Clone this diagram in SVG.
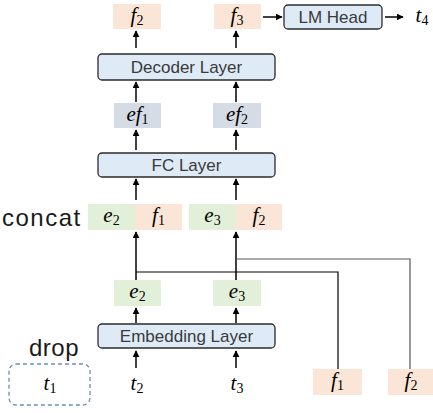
<svg xmlns="http://www.w3.org/2000/svg" width="433" height="413" viewBox="0 0 433 413">
<defs>
<marker id="ah" viewBox="0 0 10 10" refX="9" refY="5" markerWidth="7" markerHeight="7" markerUnits="userSpaceOnUse" orient="auto">
<path d="M0,0 L10,5 L0,10 z" fill="#000"/>
</marker>
<style>
.or{fill:#fbe5d6}
.gr{fill:#e2f0d9}
.gb{fill:#d6dce5}
.layer{fill:#deebf7;stroke:#2b2b2b;stroke-width:1.3}
.lt{font-family:"Liberation Sans",Arial,sans-serif;font-size:17px;fill:#3a3a3a;text-anchor:middle}
.m{font-family:"Liberation Serif","DejaVu Serif",serif;font-style:italic;font-size:21px;fill:#000;text-anchor:middle}
.s{font-style:normal;font-size:14px}
.big{font-family:"Liberation Sans",Arial,sans-serif;font-size:24px;fill:#1a1a1a}
.a{stroke:#000;stroke-width:1.5;fill:none;marker-end:url(#ah)}
.ln{stroke:#000;stroke-width:1.2;fill:none}
.lg{stroke:#555;stroke-width:1.2;fill:none}
</style>
</defs>

<g id="connectors">
<line class="a" x1="136" y1="48" x2="136" y2="31"/>
<line class="a" x1="236" y1="48" x2="236" y2="31"/>
<line class="a" x1="263" y1="17" x2="282" y2="17"/>
<line class="a" x1="385" y1="17" x2="403" y2="17"/>
<line class="a" x1="136" y1="102" x2="136" y2="82"/>
<line class="a" x1="236" y1="102" x2="236" y2="82"/>
<line class="a" x1="136" y1="150" x2="136" y2="130"/>
<line class="a" x1="236" y1="150" x2="236" y2="130"/>
<line class="a" x1="136" y1="200" x2="136" y2="179"/>
<line class="a" x1="236" y1="200" x2="236" y2="179"/>
<line class="a" x1="136" y1="280" x2="136" y2="232"/>
<line class="a" x1="236" y1="280" x2="236" y2="232"/>
<polyline class="ln" points="136,272 338,272 338,369"/>
<polyline class="lg" points="236,259 410,259 410,369"/>
<line class="a" x1="136" y1="323" x2="136" y2="308"/>
<line class="a" x1="236" y1="323" x2="236" y2="308"/>
<line class="a" x1="136" y1="368" x2="136" y2="351"/>
<line class="a" x1="236" y1="368" x2="236" y2="351"/>
</g>

<g id="f2-top"><rect class="or" x="113" y="4" width="48" height="25"/><text class="m" x="137" y="22">f<tspan class="s" dy="3">2</tspan></text></g>
<g id="f3-top"><rect class="or" x="214" y="4" width="47" height="25"/><text class="m" x="237" y="22">f<tspan class="s" dy="3">3</tspan></text></g>
<g id="lm-head"><rect class="layer" x="284" y="5" width="98" height="24" rx="4"/><text class="lt" x="333" y="23">LM Head</text></g>
<g id="t4"><text class="m" x="422" y="22">t<tspan class="s" dy="3">4</tspan></text></g>

<g id="decoder"><rect class="layer" x="98" y="54" width="177" height="26" rx="4"/><text class="lt" x="186.5" y="73">Decoder Layer</text></g>

<g id="ef1"><rect class="gb" x="114" y="103" width="47" height="25"/><text class="m" x="137.5" y="121">ef<tspan class="s" dy="3">1</tspan></text></g>
<g id="ef2"><rect class="gb" x="213" y="103" width="48" height="25"/><text class="m" x="237" y="121">ef<tspan class="s" dy="3">2</tspan></text></g>

<g id="fc"><rect class="layer" x="98" y="153" width="177" height="24" rx="4"/><text class="lt" x="186.5" y="171">FC Layer</text></g>

<g id="concat-label"><text class="big" x="2" y="226" letter-spacing="1.5">concat</text></g>
<g id="c-e2"><rect class="gr" x="88" y="204" width="47" height="26"/><text class="m" x="111.5" y="222">e<tspan class="s" dy="3">2</tspan></text></g>
<g id="c-f1"><rect class="or" x="135" y="204" width="47" height="26"/><text class="m" x="158.5" y="222">f<tspan class="s" dy="3">1</tspan></text></g>
<g id="c-e3"><rect class="gr" x="189" y="204" width="47" height="26"/><text class="m" x="212.5" y="222">e<tspan class="s" dy="3">3</tspan></text></g>
<g id="c-f2"><rect class="or" x="236" y="204" width="46" height="26"/><text class="m" x="259" y="222">f<tspan class="s" dy="3">2</tspan></text></g>

<g id="e2"><rect class="gr" x="114" y="280" width="47" height="26"/><text class="m" x="137.5" y="298">e<tspan class="s" dy="3">2</tspan></text></g>
<g id="e3"><rect class="gr" x="213" y="280" width="48" height="26"/><text class="m" x="237" y="298">e<tspan class="s" dy="3">3</tspan></text></g>

<g id="embedding"><rect class="layer" x="98" y="324" width="177" height="24" rx="4"/><text class="lt" x="186.5" y="342">Embedding Layer</text></g>

<g id="drop-label"><text class="big" x="29" y="356" letter-spacing="0.5">drop</text></g>
<g id="t1"><rect x="9" y="364" width="81" height="41" rx="7" fill="none" stroke="#6d8fb3" stroke-width="1.3" stroke-dasharray="4,3"/><text class="m" x="50" y="390">t<tspan class="s" dy="3">1</tspan></text></g>
<g id="t2"><text class="m" x="137" y="390">t<tspan class="s" dy="3">2</tspan></text></g>
<g id="t3"><text class="m" x="237" y="390">t<tspan class="s" dy="3">3</tspan></text></g>
<g id="f1-in"><rect class="or" x="313" y="369" width="49" height="26"/><text class="m" x="337.5" y="387">f<tspan class="s" dy="3">1</tspan></text></g>
<g id="f2-in"><rect class="or" x="388" y="369" width="45" height="26"/><text class="m" x="411" y="387">f<tspan class="s" dy="3">2</tspan></text></g>
</svg>
